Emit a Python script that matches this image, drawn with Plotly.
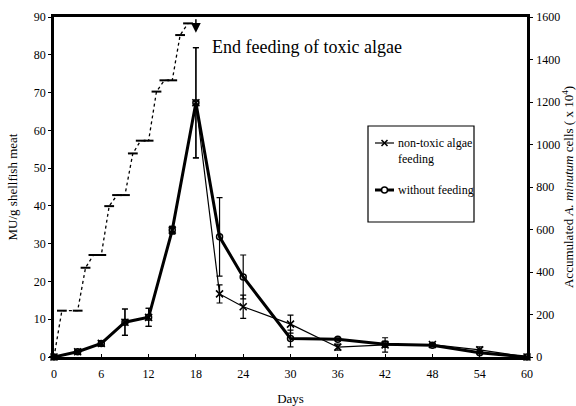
import plotly.graph_objects as go

# MU/g shellfish meat (left axis)
days = [0, 3, 6, 9, 12, 15, 18, 21, 24, 30, 36, 42, 48, 54, 60]
nontoxic = [0, 1.4, 3.6, 9.2, 10.5, 33.6, 67.3, 16.7, 13.3, 8.7, 2.6, 3.2, 3.3, 1.9, 0]
nontoxic_err = [0.3, 0.4, 0.6, 3.5, 2.4, 1.0, 14.6, 2.4, 3.1, 2.4, 0.8, 1.9, 0.4, 0.8, 0]
without = [0, 1.4, 3.6, 9.2, 10.5, 33.6, 67.3, 31.8, 21.2, 4.9, 4.7, 3.4, 3.1, 1.1, 0]
without_err = [0.3, 0.4, 0.6, 3.5, 2.4, 1.0, 14.6, 10.4, 5.8, 2.2, 0.4, 0.8, 0.4, 0.3, 0]

# Accumulated A. minutum cells (x10^4) (right axis)
cell_days = [0, 1, 3, 4, 5, 6, 7, 8, 9, 10, 11, 12, 13, 14, 15, 16, 17]
cells = [0, 218, 218, 420, 480, 480, 710, 762, 762, 958, 1018, 1018, 1249, 1302, 1302, 1515, 1570]

x_ticks = [0, 6, 12, 18, 24, 30, 36, 42, 48, 54, 60]
y_ticks = [0, 10, 20, 30, 40, 50, 60, 70, 80, 90]
y2_ticks = [0, 200, 400, 600, 800, 1000, 1200, 1400, 1600]

legend_names = ["non-toxic algae<br>feeding", "without feeding"]

FONT = "Liberation Serif, Times New Roman, Times, serif"

# plot-area geometry (pixels) used only to place the hand-drawn legend
L, R, T, B = 54, 527, 17, 357
def px(x):
    return (x - L) / (R - L)
def py(y):
    return (B - y) / (B - T)

fig = go.Figure()

fig.add_trace(go.Scatter(
    x=cell_days, y=cells, yaxis="y2", mode="lines+markers",
    line=dict(color="black", width=1.3, dash="dot"),
    marker=dict(symbol="line-ew", size=7, line=dict(color="black", width=2)),
    showlegend=False, cliponaxis=False, hoverinfo="skip",
))

fig.add_trace(go.Scatter(
    x=days, y=nontoxic, mode="lines+markers", name=legend_names[0],
    line=dict(color="black", width=1.2),
    marker=dict(symbol="x-thin", size=7, line=dict(color="black", width=1.6), color="black"),
    error_y=dict(type="data", array=nontoxic_err, color="black", thickness=1.2, width=3),
    cliponaxis=False, showlegend=False,
))

fig.add_trace(go.Scatter(
    x=days, y=without, mode="lines+markers", name=legend_names[1],
    line=dict(color="black", width=3),
    marker=dict(symbol="circle-open", size=6, line=dict(color="black", width=1.5), color="black"),
    error_y=dict(type="data", array=without_err, color="black", thickness=1.2, width=3),
    cliponaxis=False, showlegend=False,
))

fig.add_annotation(
    x=18, y=85.8, xref="x", yref="y", text="", showarrow=True,
    ax=0, ay=-15, arrowhead=2, arrowsize=1.3, arrowwidth=1.5, arrowcolor="black",
)
fig.add_annotation(
    x=19.8, y=82.0, xref="x", yref="y", text="End feeding of toxic algae",
    showarrow=False, xanchor="left", yanchor="middle",
    font=dict(family=FONT, size=18, color="black"),
)

# ---- hand-drawn legend ----
fig.add_shape(type="rect", xref="paper", yref="paper",
              x0=px(368), x1=px(474), y0=py(222), y1=py(126),
              line=dict(color="black", width=1.2), fillcolor="rgba(0,0,0,0)")
# entry 1: thin line with x marker
fig.add_shape(type="line", xref="paper", yref="paper",
              x0=px(375), x1=px(394), y0=py(143), y1=py(143),
              line=dict(color="black", width=1.2))
fig.add_shape(type="line", xref="paper", yref="paper",
              x0=px(381.5), x1=px(387.5), y0=py(140), y1=py(146),
              line=dict(color="black", width=1.6))
fig.add_shape(type="line", xref="paper", yref="paper",
              x0=px(381.5), x1=px(387.5), y0=py(146), y1=py(140),
              line=dict(color="black", width=1.6))
fig.add_annotation(x=px(396), y=py(150.5), xref="paper", yref="paper",
                   text=legend_names[0], showarrow=False, xanchor="left", yanchor="middle",
                   align="left", font=dict(family=FONT, size=12, color="black"))
# entry 2: thick line with open circle
fig.add_shape(type="line", xref="paper", yref="paper",
              x0=px(375), x1=px(394), y0=py(190), y1=py(190),
              line=dict(color="black", width=3))
fig.add_shape(type="circle", xref="paper", yref="paper",
              x0=px(381.5), x1=px(387.5), y0=py(193), y1=py(187),
              line=dict(color="black", width=1.5), fillcolor="white")
fig.add_annotation(x=px(396), y=py(190), xref="paper", yref="paper",
                   text=legend_names[1], showarrow=False, xanchor="left", yanchor="middle",
                   align="left", font=dict(family=FONT, size=12, color="black"))

axis_common = dict(
    showgrid=False, zeroline=False, showline=True, linecolor="black", linewidth=2.5,
    tickfont=dict(family=FONT, size=12, color="black"),
    tickcolor="black",
)

fig.update_layout(
    template="none",
    width=576, height=406,
    margin=dict(l=L, r=576 - R, t=T, b=406 - B),
    paper_bgcolor="white", plot_bgcolor="white",
    font=dict(family=FONT, color="black"),
    showlegend=False,
    xaxis=dict(range=[0, 60], tickvals=x_ticks, ticks="inside", ticklen=3, mirror=True,
               ticklabelstandoff=4,
               title=dict(text="Days", font=dict(family=FONT, size=13), standoff=18),
               **axis_common),
    yaxis=dict(range=[0, 90], tickvals=y_ticks, ticks="outside", ticklen=3,
               title=dict(text="MU/g shellfish meat", font=dict(family=FONT, size=13), standoff=14),
               **axis_common),
    yaxis2=dict(range=[0, 1600], tickvals=y2_ticks, ticks="outside", ticklen=3,
                overlaying="y", side="right", ticklabelstandoff=1,
                title=dict(text="Accumulated <i>A. minutum</i> cells ( x 10<sup>4</sup>)",
                           font=dict(family=FONT, size=13), standoff=12),
                **axis_common),
)

fig.write_html("out.html")
